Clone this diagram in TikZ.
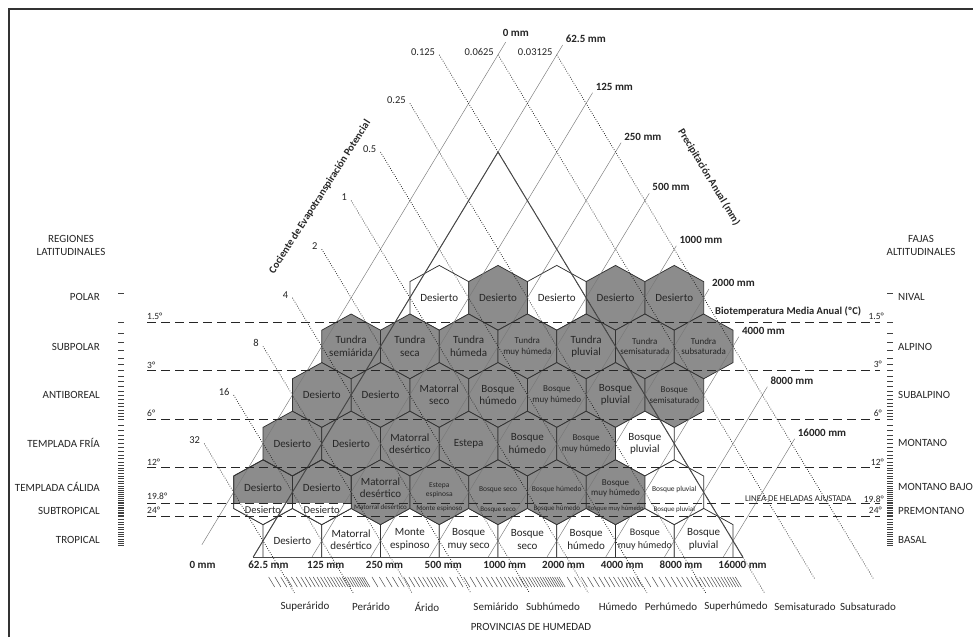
\documentclass[tikz,border=0pt]{standalone}
\usepackage{fontspec}
\setmainfont{Carlito}
\definecolor{hexgray}{RGB}{140,140,140}
\definecolor{edge}{RGB}{50,50,50}
\definecolor{txt}{RGB}{38,38,38}
\definecolor{thinl}{RGB}{120,120,120}
\newcommand\hxpath[2]{(#1,#2-32.4) -- (#1+29.375,#2-16.2) -- (#1+29.375,#2+16.2) -- (#1,#2+32.4) -- (#1-29.375,#2+16.2) -- (#1-29.375,#2-16.2) -- cycle}
\tikzset{
 hexbase/.style={draw=edge, line width=0.75pt, line join=miter},
 precip/.style={draw=thinl, line width=0.45pt},
 petline/.style={draw=black!85, line width=0.75pt, dash pattern=on 0.75pt off 1.6pt},
 triside/.style={draw=black!72, line width=0.95pt},
 tempdash/.style={draw=black!85, line width=0.9pt, dash pattern=on 9pt off 5pt},
 tmark/.style={draw=black!75, line width=0.6pt},
 rtick/.style={draw=black!70, line width=0.5pt},
 txtL/.style={font=\fontsize{11}{12.4}\selectfont, text=txt, align=center, inner sep=0pt},
 txtM/.style={font=\fontsize{10.5}{12}\selectfont, text=txt, align=center, inner sep=0pt},
 txtS/.style={font=\fontsize{9}{10.6}\selectfont, text=txt, align=center, inner sep=0pt},
 txtT/.style={font=\fontsize{7.5}{8.8}\selectfont, text=txt, align=center, inner sep=0pt},
 txtX/.style={font=\fontsize{7}{8}\selectfont, text=txt, align=center, inner sep=0pt},
 reglab/.style={font=\fontsize{11}{12.5}\selectfont, text=txt, inner sep=0pt, align=center},
 templab/.style={font=\fontsize{9.5}{11}\selectfont, text=txt, inner sep=0pt},
 mmlab/.style={font=\bfseries\fontsize{11}{12}\selectfont, text=txt, inner sep=0pt},
 petlab/.style={font=\fontsize{10.5}{12}\selectfont, text=txt, inner sep=0pt},
}
\begin{document}
\begin{tikzpicture}[x=1pt,y=-1pt]
\useasboundingbox (0,0) rectangle (973,637);
\fill[white] (0,0) rectangle (973,637);
% frame
\coordinate (fbl) at (8.5,637); \coordinate (ftl) at (8.5,8.5); \coordinate (ftr) at (973,8.5);
\draw[line width=2pt, black!80] (fbl) -- (ftl) -- (ftr);

% ---------------- hexagons ----------------
% tropical (truncated)
\foreach \x in {292.375,351.125,409.875,468.625,527.375,586.125,644.875,703.625}
  \path[hexbase,fill=white] (\x-29.375,557) -- (\x-29.375,524.6) -- (\x,508.4) -- (\x+29.375,524.6) -- (\x+29.375,557);
% polar
\foreach \x/\fc in {439.25/white,498/hexgray,556.75/white,615.5/hexgray,674.25/hexgray}
  \path[hexbase,fill=\fc] \hxpath{\x}{297.8};
% subpolar
\foreach \x in {351.125,409.875,468.625,527.375,586.125,644.875,703.625}
  \path[hexbase,fill=hexgray] \hxpath{\x}{346.4};
% antiboreal
\foreach \x in {321.75,380.5,439.25,498,556.75,615.5,674.25}
  \path[hexbase,fill=hexgray] \hxpath{\x}{395};
% templada fria
\foreach \x/\fc in {292.375/hexgray,351.125/hexgray,409.875/hexgray,468.625/hexgray,527.375/hexgray,586.125/hexgray,644.875/white}
  \path[hexbase,fill=\fc] \hxpath{\x}{443.6};
% templada calida
\foreach \x/\fc in {263/hexgray,321.75/hexgray,380.5/hexgray,439.25/hexgray,498/hexgray,556.75/hexgray,615.5/hexgray,674.25/white}
  \path[hexbase,fill=\fc] \hxpath{\x}{492.2};
% subtropical white parts
\foreach \x in {263,321.75}{
  \begin{scope}
    \clip \hxpath{\x}{492.2};
    \fill[white] (\x-31,503) rectangle (\x+31,530);
  \end{scope}
  \path[hexbase] \hxpath{\x}{492.2};
}

% ---------------- precipitation lines ----------------
\foreach \n/\jt/\jb/\dx/\dy/\lab in {0/-2.26/8.08/-3/-9/0 mm, 1/-2.2/8.333/3/-6/62.5 mm, 2/-1.22/8.333/3/-6/125 mm, 3/-0.19/8.333/3/-6/250 mm, 4/0.85/8.333/3/-6/500 mm, 5/1.93/8.333/3/-6/1000 mm, 6/2.82/8.333/3/-6/2000 mm, 7/3.8/8.333/3/-6/4000 mm, 8/4.83/8.333/3/-6/8000 mm, 9/5.9/8.333/3/-6/16000 mm}{
  \pgfmathsetmacro\Pv{2*\n-2}
  \pgfmathsetmacro\xt{498+29.375*(\Pv-(\jt))}
  \pgfmathsetmacro\yt{152+48.6*(\jt)}
  \pgfmathsetmacro\xb{498+29.375*(\Pv-(\jb))}
  \pgfmathsetmacro\yb{152+48.6*(\jb)}
  \pgfmathsetmacro\xl{498+29.375*(\Pv-8.333)-5}
  \coordinate (pt\n) at (\xt,\yt);
  \coordinate (pb\n) at (\xb,\yb);
  \draw[precip] (pb\n) -- (pt\n);
  \node[mmlab,anchor=west] (ptl\n) at (\xt+\dx,\yt+\dy) {\lab};
  \node[mmlab,anchor=west] (pbl\n) at (\xl,565) {\lab};
}

% ---------------- PET lines ----------------
\foreach \Q/\js/\je/\lab [count=\i] in {4/-2/8.8/0.03125, 2/-2/8.8/0.0625, 0/-2/9.07/0.125, -2/-1/9.07/0.25, -4/0/9.07/0.5, -6/1/9.07/1, -8/2/9.07/2, -10/3/9.07/4, -12/4/9.07/8, -14/5/9.07/16, -16/6/9.07/32}{
  \pgfmathsetmacro\xs{498+29.375*((\Q)+(\js))}
  \pgfmathsetmacro\ys{152+48.6*(\js)}
  \pgfmathsetmacro\xe{498+29.375*((\Q)+(\je))}
  \pgfmathsetmacro\ye{152+48.6*(\je)}
  \coordinate (es\i) at (\xs,\ys);
  \coordinate (ee\i) at (\xe,\ye);
  \draw[petline] (es\i) -- (ee\i);
  \node[petlab,anchor=east] (el\i) at (\xs-4,\ys-3) {\lab};
}

% ---------------- big triangle ----------------
\coordinate (apex) at (498,152);
\coordinate (bl) at (253.2,557);
\coordinate (br) at (742.8,557);
\draw[triside] (bl) -- (apex) -- (br);
\draw[triside] (bl) -- (br);

% ---------------- temperature dashed lines ----------------
\foreach \y/\i in {322.1/1,370.7/2,419.3/3,467.9/4,503/5,516.5/6}{
  \coordinate (dl\i) at (147,\y);
  \coordinate (dr\i) at (880,\y);
  \draw[tempdash] (dl\i) -- (dr\i);
}
\node[templab,anchor=west] (tl1) at (147,316.3) {1.5°};
\node[templab,anchor=west] (tl2) at (147,364.8) {3°};
\node[templab,anchor=west] (tl3) at (147,413.3) {6°};
\node[templab,anchor=west] (tl4) at (147,462.3) {12°};
\node[templab,anchor=west] (tl5) at (147,496.5) {19.8°};
\node[templab,anchor=west] (tl6) at (147,510.7) {24°};
\node[templab,anchor=east] (tr1) at (884,316.7) {1.5°};
\node[templab,anchor=east] (tr2) at (882,364.5) {3°};
\node[templab,anchor=east] (tr3) at (882,413) {6°};
\node[templab,anchor=east] (tr4) at (884,462.7) {12°};
\node[templab,anchor=east] (tr5) at (884,499) {19.8°};
\node[templab,anchor=east] (tr6) at (882,510.7) {24°};

% ---------------- scale ticks left / right ----------------
\foreach \T in {1,1.5,1.75,2,2.25,2.5,2.75,3,3.25,3.5,3.75,4,4.25,4.5,4.75,5,5.25,5.5,5.75,6,6.5,7,...,24,25,26,...,36}{
  \pgfmathsetmacro\ty{322.1+70.115*ln(\T/1.5)}
  \draw[tmark] (118,\ty) -- (124,\ty);
  \draw[tmark] (887,\ty) -- (893,\ty);
}

% ---------------- bottom log ruler ----------------
\foreach \D/\bx in {10/97.9,100/293.04,1000/488.2,10000/683.4}{
  \foreach \fc in {1,1.05,1.1,1.15,1.2,1.25,1.3,1.35,1.4,1.45,1.5,1.55,1.6,1.65,1.7,1.75,1.8,1.85,1.9,1.95,2,2.2,2.4,2.6,2.8,3,3.2,3.4,3.6,3.8,4,4.2,4.4,4.6,4.8,5,5.5,6,6.5,7,7.5,8,8.5,9,9.5}{
    \pgfmathsetmacro\xr{\bx+84.76*ln(\fc)}
    \ifdim\xr pt>253pt \ifdim\xr pt<723.5pt
      \draw[rtick] (\xr+12.1,577) -- (\xr+18.1,587);
    \fi\fi
  }
}

% ---------------- hex labels ----------------
\node[txtL] (n01) at (439.25,297.8) {Desierto};
\node[txtL] (n02) at (498,297.8) {Desierto};
\node[txtL] (n03) at (556.75,297.8) {Desierto};
\node[txtL] (n04) at (615.5,297.8) {Desierto};
\node[txtL] (n05) at (674.25,297.8) {Desierto};

\node[txtL] (n11) at (351.125,346.4) {Tundra\\semiárida};
\node[txtL] (n12) at (409.875,346.4) {Tundra\\seca};
\node[txtL] (n13) at (468.625,346.4) {Tundra\\húmeda};
\node[txtS] (n14) at (527.375,346.4) {Tundra\\muy húmeda};
\node[txtL] (n15) at (586.125,346.4) {Tundra\\pluvial};
\node[txtS] (n16) at (644.875,346.4) {Tundra\\semisaturada};
\node[txtS] (n17) at (703.625,346.4) {Tundra\\subsaturada};

\node[txtL] (n21) at (321.75,395) {Desierto};
\node[txtL] (n22) at (380.5,395) {Desierto};
\node[txtL] (n23) at (439.25,395) {Matorral\\seco};
\node[txtL] (n24) at (498,395) {Bosque\\húmedo};
\node[txtS] (n25) at (556.75,395) {Bosque\\muy húmedo};
\node[txtL] (n26) at (615.5,395) {Bosque\\pluvial};
\node[txtS] (n27) at (674.25,395) {Bosque\\semisaturado};

\node[txtL] (n31) at (292.375,443.6) {Desierto};
\node[txtL] (n32) at (351.125,443.6) {Desierto};
\node[txtL] (n33) at (409.875,443.6) {Matorral\\desértico};
\node[txtL] (n34) at (468.625,443.6) {Estepa};
\node[txtL] (n35) at (527.375,443.6) {Bosque\\húmedo};
\node[txtS] (n36) at (586.125,443.6) {Bosque\\muy húmedo};
\node[txtL] (n37) at (644.875,443.6) {Bosque\\pluvial};

\node[txtL] (n41) at (263,488) {Desierto};
\node[txtL] (n42) at (321.75,488) {Desierto};
\node[txtL] (n43) at (380.5,488) {Matorral\\desértico};
\node[txtT] (n44) at (439.25,490.5) {Estepa\\espinosa};
\node[txtT] (n45) at (498,490) {Bosque seco};
\node[txtT] (n46) at (556.75,489) {Bosque húmedo};
\node[txtS] (n47) at (615.5,488.5) {Bosque\\muy húmedo};
\node[txtT] (n48) at (674.25,489) {Bosque pluvial};

\node[txtM] (s1) at (263,509.5) {Desierto};
\node[txtM] (s2) at (321.75,509.5) {Desierto};
\node[txtX] (s3) at (380.5,507.5) {Matorral desértico};
\node[txtX] (s4) at (439.25,509) {Monte espinoso};
\node[txtX] (s5) at (498,509.5) {Bosque seco};
\node[txtX] (s6) at (556.75,509) {Bosque húmedo};
\node[txtX, font=\fontsize{6.5}{7.5}\selectfont] (s7) at (615.5,509) {Bosque muy húmedo};
\node[txtX] (s8) at (674.25,509.5) {Bosque pluvial};

\node[txtL] (t1) at (292.375,541) {Desierto};
\node[txtL] (t2) at (351.125,539.5) {Matorral\\desértico};
\node[txtL] (t3) at (409.875,539.5) {Monte\\espinoso};
\node[txtL] (t4) at (468.625,539.5) {Bosque\\muy seco};
\node[txtL] (t5) at (527.375,539.5) {Bosque\\seco};
\node[txtL] (t6) at (586.125,539.5) {Bosque\\húmedo};
\node[txtM, font=\fontsize{10}{12.2}\selectfont] (t7) at (644.875,539.5) {Bosque\\muy húmedo};
\node[txtL] (t8) at (703.625,539.5) {Bosque\\pluvial};

% ---------------- side labels ----------------
\node[reglab] (regiones) at (71,245.5) {REGIONES\\LATITUDINALES};
\node[reglab,anchor=east] (polar) at (100,297) {POLAR};
\node[reglab,anchor=east] (subpolar) at (100,346.5) {SUBPOLAR};
\node[reglab,anchor=east] (antiboreal) at (100,394.7) {ANTIBOREAL};
\node[reglab,anchor=east] (tfria) at (100,443) {TEMPLADA FRÍA};
\node[reglab,anchor=east] (tcalida) at (100,487) {TEMPLADA CÁLIDA};
\node[reglab,anchor=east] (subtrop) at (100,510.7) {SUBTROPICAL};
\node[reglab,anchor=east] (tropical) at (100,540) {TROPICAL};

\node[reglab] (fajas) at (921,245.5) {FAJAS\\ALTITUDINALES};
\node[reglab,anchor=west] (nival) at (898,297) {NIVAL};
\node[reglab,anchor=west] (alpino) at (898,346.5) {ALPINO};
\node[reglab,anchor=west] (subalpino) at (898,394.7) {SUBALPINO};
\node[reglab,anchor=west] (montano) at (898,443) {MONTANO};
\node[reglab,anchor=west] (montbajo) at (898,487) {MONTANO BAJO};
\node[reglab,anchor=west] (premont) at (898,510.7) {PREMONTANO};
\node[reglab,anchor=west] (basal) at (898,540) {BASAL};

% ---------------- titles ----------------
\node[font=\bfseries\fontsize{10.5}{12}\selectfont, text=txt, inner sep=0pt, anchor=west] (biot) at (715,311) {Biotemperatura Media Anual (ºC)};
\node[font=\fontsize{8.8}{9.5}\selectfont, text=txt, inner sep=0pt, anchor=west] (helada) at (745,498.5) {LINEA DE HELADAS AJUSTADA};
\node[font=\bfseries\fontsize{10.5}{12}\selectfont, text=txt, rotate=57.5, inner sep=0pt] (cociente) at (320,197) {Cociente de Evapotranspiración Potencial};
\node[font=\bfseries\fontsize{10.5}{12}\selectfont, text=txt, rotate=-59, inner sep=0pt] (precipt) at (709,177) {Precipitación Anual (mm)};

% ---------------- humidity provinces ----------------
\foreach \x/\lab [count=\i] in {305/Superárido,371/Perárido,427/Árido,496/Semiárido,553/Subhúmedo,618/Húmedo,671/Perhúmedo,736/Superhúmedo,805/Semisaturado,868/Subsaturado}
  \node[reglab] (prov\i) at (\x,607) {\lab};
\node[reglab] (provtitle) at (531,627) {PROVINCIAS DE HUMEDAD};
\end{tikzpicture}
\end{document}
